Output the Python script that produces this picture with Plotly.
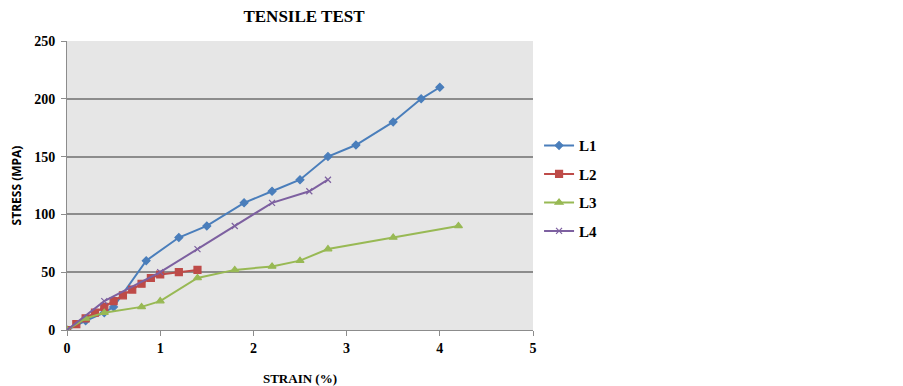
import plotly.graph_objects as go

l1_x = [0, 0.2, 0.4, 0.5, 0.85, 1.2, 1.5, 1.9, 2.2, 2.5, 2.8, 3.1, 3.5, 3.8, 4.0]
l1_y = [0, 8, 15, 20, 60, 80, 90, 110, 120, 130, 150, 160, 180, 200, 210]

l2_x = [0, 0.1, 0.2, 0.3, 0.4, 0.5, 0.6, 0.7, 0.8, 0.9, 1.0, 1.2, 1.4]
l2_y = [0, 5, 10, 15, 20, 25, 30, 35, 40, 45, 48, 50, 52]

l3_x = [0, 0.2, 0.4, 0.8, 1.0, 1.4, 1.8, 2.2, 2.5, 2.8, 3.5, 4.2]
l3_y = [0, 10, 15, 20, 25, 45, 52, 55, 60, 70, 80, 90]

l4_x = [0, 0.4, 1.0, 1.4, 1.8, 2.2, 2.6, 2.8]
l4_y = [0, 25, 50, 70, 90, 110, 120, 130]

x_ticks = [0, 1, 2, 3, 4, 5]
y_ticks = [0, 50, 100, 150, 200, 250]

serif = "Liberation Serif, DejaVu Serif, serif"
sans = "Open Sans, Liberation Sans, sans-serif"

fig = go.Figure()
series = [
    ("L1", l1_x, l1_y, "#4a7ebb", "diamond", 6),
    ("L2", l2_x, l2_y, "#be4b48", "square", 7),
    ("L3", l3_x, l3_y, "#98b954", "triangle-up", 7),
    ("L4", l4_x, l4_y, "#7d60a0", "x-thin", 6),
]
for name, xs, ys, col, sym, sz in series:
    fig.add_trace(go.Scatter(
        x=xs, y=ys, name=f"<b>{name}</b>", legendgroup=name, mode="lines+markers",
        line=dict(color=col, width=2),
        marker=dict(symbol=sym, size=sz, color=col,
                    line=dict(color=col, width=1.2)),
    ))

fig.update_layout(
    width=903, height=386,
    margin=dict(l=59, r=378, t=33, b=64, autoexpand=False),
    paper_bgcolor="white",
    plot_bgcolor="#e6e6e6",
    title=dict(text="<b>TENSILE TEST</b>", x=296 / 903, xanchor="center",
               y=1, yanchor="top", pad=dict(t=2), automargin=False,
               font=dict(family=serif, size=17, color="black")),
    legend=dict(x=1.013, y=0.695, xanchor="left", yanchor="top",
                font=dict(family=serif, size=15, color="black"),
                bgcolor="rgba(0,0,0,0)", tracegroupgap=6,
                itemwidth=30),
    showlegend=True,
)
fig.update_xaxes(
    range=[0, 5], tickvals=x_ticks, ticktext=[f"<b>{v}</b>" for v in x_ticks],
    showgrid=False, zeroline=False, showline=True, linecolor="#8c8c8c", linewidth=1,
    ticks="outside", ticklen=5, tickcolor="#8c8c8c", automargin=False,
    tickfont=dict(family=serif, size=14, color="black"),
    title=dict(text="<b>STRAIN (%)</b>", font=dict(family=serif, size=13, color="black"),
               standoff=19),
)
fig.update_yaxes(
    range=[0, 250], tickvals=y_ticks, ticktext=[f"<b>{v}</b>" for v in y_ticks],
    showgrid=True, gridcolor="#8c8c8c", gridwidth=1.5, zeroline=False,
    showline=True, linecolor="#8c8c8c", linewidth=1,
    ticks="outside", ticklen=5, tickcolor="#8c8c8c", automargin=False,
    tickfont=dict(family=serif, size=14, color="black"),
    ticklabelstandoff=3,
    title=dict(text="<b>STRESS (MPA)</b>", font=dict(family=sans, size=12, color="black"),
               standoff=24),
)

fig.write_html("out.html")
